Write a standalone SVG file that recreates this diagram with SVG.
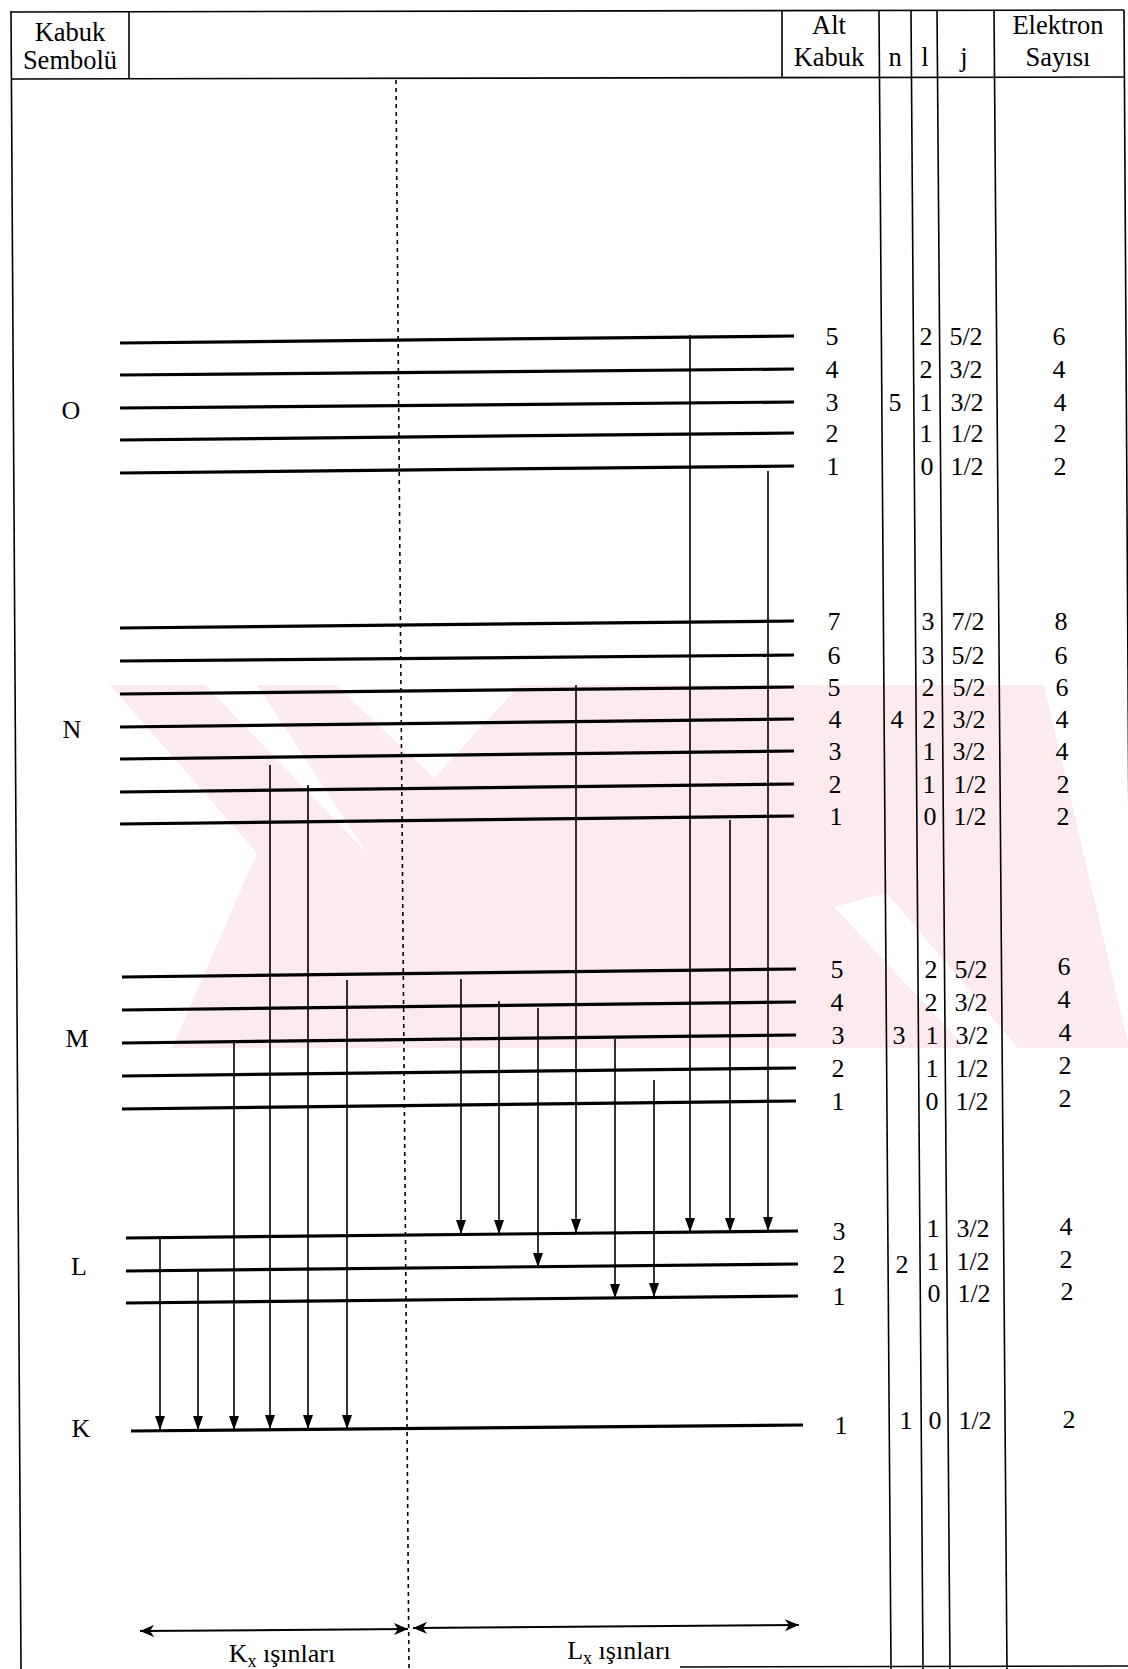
<svg xmlns="http://www.w3.org/2000/svg" width="1128" height="1669" viewBox="0 0 1128 1669">
<defs>
<style>
.t{font-family:"Liberation Serif","Times New Roman",serif;font-size:26px;fill:#000;text-anchor:middle}
.h{font-size:26.5px}
.lv{stroke:#000;stroke-width:3.2;fill:none}
.col{stroke:#000;stroke-width:1.6;fill:none}
.ar{stroke:#000;stroke-width:1.6;fill:none;marker-end:url(#ah)}
.wm{fill:#fdeaee}
.wh{fill:#fff}
</style>
<marker id="ah" viewBox="0 0 14 10" refX="14" refY="5" markerWidth="14" markerHeight="10" markerUnits="userSpaceOnUse" orient="auto">
<path d="M0,0 L14,5 L0,10 Z" fill="#000"/>
</marker>
<marker id="ab" viewBox="0 0 14 12" refX="14" refY="6" markerWidth="14" markerHeight="12" markerUnits="userSpaceOnUse" orient="auto-start-reverse">
<path d="M0,0 L14,6 L0,12 L4,6 Z" fill="#000"/>
</marker>
</defs>
<rect width="1128" height="1669" fill="#fff"/>
<g id="watermark">
<rect class="wm" x="110" y="685" width="1018" height="363"/>
<polygon class="wh" points="336,685 520,685 434,778"/>
<polygon class="wh" points="205,685 257,685 366,852"/>
<polygon class="wh" points="110,685 257,853 172,1048 110,1048"/>
<polygon class="wh" points="1044,685 1128,685 1128,1043"/>
<polygon class="wh" points="834,907 887,893 1018,1048 966,1048"/>
</g>
<g id="frame">
<line class="col" x1="11" y1="12" x2="1124" y2="10"/>
<line class="col" x1="11" y1="79" x2="1124" y2="77"/>
<line class="col" x1="11" y1="11" x2="21" y2="1669"/>
<line class="col" x1="1124" y1="10" x2="1134" y2="1669"/>
<line class="col" x1="129" y1="11" x2="129" y2="79"/>
<line class="col" x1="782" y1="11" x2="782" y2="78"/>
<line class="col" x1="879" y1="10" x2="891" y2="1669"/>
<line class="col" x1="911" y1="10" x2="923" y2="1669"/>
<line class="col" x1="937" y1="10" x2="950" y2="1669"/>
<line class="col" x1="994" y1="10" x2="1007" y2="1669"/>
<line class="col" x1="680" y1="1667" x2="1128" y2="1666"/>
<line stroke="#000" stroke-width="1.6" stroke-dasharray="4,4" x1="396" y1="80" x2="409" y2="1669"/>
</g>
<g id="header">
<text class="t h" x="70" y="41">Kabuk</text>
<text class="t h" x="70" y="69">Sembolü</text>
<text class="t h" x="829" y="34">Alt</text>
<text class="t h" x="829" y="66">Kabuk</text>
<text class="t h" x="895" y="66">n</text>
<text class="t h" x="925" y="66">l</text>
<text class="t h" x="964" y="66">j</text>
<text class="t h" x="1058" y="34">Elektron</text>
<text class="t h" x="1058" y="66">Sayısı</text>
</g>
<g id="shell-O">
<text class="t" x="71" y="419">O</text>
<line class="lv" x1="120" y1="343" x2="794" y2="336"/>
<line class="lv" x1="120" y1="375" x2="794" y2="369"/>
<line class="lv" x1="120" y1="408" x2="794" y2="402"/>
<line class="lv" x1="120" y1="440" x2="794" y2="433"/>
<line class="lv" x1="120" y1="473" x2="794" y2="466"/>
<text class="t" x="832" y="345">5</text>
<text class="t" x="832" y="378">4</text>
<text class="t" x="832" y="411">3</text>
<text class="t" x="832" y="442">2</text>
<text class="t" x="833" y="475">1</text>
<text class="t" x="895" y="411">5</text>
<text class="t" x="926" y="345">2</text>
<text class="t" x="926" y="378">2</text>
<text class="t" x="926" y="411">1</text>
<text class="t" x="926" y="442">1</text>
<text class="t" x="927" y="475">0</text>
<text class="t" x="966" y="345">5/2</text>
<text class="t" x="966" y="378">3/2</text>
<text class="t" x="967" y="411">3/2</text>
<text class="t" x="967" y="442">1/2</text>
<text class="t" x="967" y="475">1/2</text>
<text class="t" x="1059" y="345">6</text>
<text class="t" x="1059" y="378">4</text>
<text class="t" x="1060" y="411">4</text>
<text class="t" x="1060" y="442">2</text>
<text class="t" x="1060" y="475">2</text>
</g>
<g id="shell-N">
<text class="t" x="72" y="738">N</text>
<line class="lv" x1="120" y1="628" x2="794" y2="621"/>
<line class="lv" x1="120" y1="661" x2="794" y2="655"/>
<line class="lv" x1="120" y1="694" x2="794" y2="687"/>
<line class="lv" x1="120" y1="727" x2="794" y2="719"/>
<line class="lv" x1="120" y1="759" x2="794" y2="751"/>
<line class="lv" x1="120" y1="792" x2="794" y2="784"/>
<line class="lv" x1="120" y1="824" x2="794" y2="816"/>
<text class="t" x="834" y="630">7</text>
<text class="t" x="834" y="664">6</text>
<text class="t" x="834" y="696">5</text>
<text class="t" x="835" y="728">4</text>
<text class="t" x="835" y="760">3</text>
<text class="t" x="835" y="793">2</text>
<text class="t" x="836" y="825">1</text>
<text class="t" x="897" y="728">4</text>
<text class="t" x="928" y="630">3</text>
<text class="t" x="928" y="664">3</text>
<text class="t" x="928" y="696">2</text>
<text class="t" x="929" y="728">2</text>
<text class="t" x="929" y="760">1</text>
<text class="t" x="929" y="793">1</text>
<text class="t" x="930" y="825">0</text>
<text class="t" x="968" y="630">7/2</text>
<text class="t" x="968" y="664">5/2</text>
<text class="t" x="969" y="696">5/2</text>
<text class="t" x="969" y="728">3/2</text>
<text class="t" x="969" y="760">3/2</text>
<text class="t" x="970" y="793">1/2</text>
<text class="t" x="970" y="825">1/2</text>
<text class="t" x="1061" y="630">8</text>
<text class="t" x="1061" y="664">6</text>
<text class="t" x="1062" y="696">6</text>
<text class="t" x="1062" y="728">4</text>
<text class="t" x="1062" y="760">4</text>
<text class="t" x="1063" y="793">2</text>
<text class="t" x="1063" y="825">2</text>
</g>
<g id="shell-M">
<text class="t" x="77" y="1047">M</text>
<line class="lv" x1="122" y1="977" x2="796" y2="969"/>
<line class="lv" x1="122" y1="1010" x2="796" y2="1002"/>
<line class="lv" x1="122" y1="1043" x2="796" y2="1035"/>
<line class="lv" x1="122" y1="1076" x2="796" y2="1068"/>
<line class="lv" x1="122" y1="1109" x2="796" y2="1101"/>
<text class="t" x="837" y="978">5</text>
<text class="t" x="837" y="1011">4</text>
<text class="t" x="838" y="1044">3</text>
<text class="t" x="838" y="1077">2</text>
<text class="t" x="838" y="1110">1</text>
<text class="t" x="899" y="1044">3</text>
<text class="t" x="931" y="978">2</text>
<text class="t" x="931" y="1011">2</text>
<text class="t" x="932" y="1044">1</text>
<text class="t" x="932" y="1077">1</text>
<text class="t" x="932" y="1110">0</text>
<text class="t" x="971" y="978">5/2</text>
<text class="t" x="971" y="1011">3/2</text>
<text class="t" x="972" y="1044">3/2</text>
<text class="t" x="972" y="1077">1/2</text>
<text class="t" x="972" y="1110">1/2</text>
<text class="t" x="1064" y="975">6</text>
<text class="t" x="1064" y="1008">4</text>
<text class="t" x="1065" y="1041">4</text>
<text class="t" x="1065" y="1074">2</text>
<text class="t" x="1065" y="1107">2</text>
</g>
<g id="shell-L">
<text class="t" x="79" y="1275">L</text>
<line class="lv" x1="126" y1="1238" x2="798" y2="1231"/>
<line class="lv" x1="126" y1="1271" x2="798" y2="1264"/>
<line class="lv" x1="126" y1="1303" x2="798" y2="1296"/>
<text class="t" x="839" y="1240">3</text>
<text class="t" x="839" y="1273">2</text>
<text class="t" x="839" y="1305">1</text>
<text class="t" x="902" y="1273">2</text>
<text class="t" x="933" y="1237">1</text>
<text class="t" x="933" y="1270">1</text>
<text class="t" x="934" y="1302">0</text>
<text class="t" x="973" y="1237">3/2</text>
<text class="t" x="973" y="1270">1/2</text>
<text class="t" x="974" y="1302">1/2</text>
<text class="t" x="1066" y="1235">4</text>
<text class="t" x="1066" y="1268">2</text>
<text class="t" x="1067" y="1300">2</text>
</g>
<g id="shell-K">
<text class="t" x="81" y="1437">K</text>
<line class="lv" x1="131" y1="1431" x2="803" y2="1425"/>
<text class="t" x="841" y="1434">1</text>
<text class="t" x="906" y="1429">1</text>
<text class="t" x="935" y="1429">0</text>
<text class="t" x="975" y="1429">1/2</text>
<text class="t" x="1069" y="1428">2</text>
</g>
<g id="connectors">
<line class="ar" x1="160" y1="1237" x2="160" y2="1430"/>
<line class="ar" x1="198" y1="1272" x2="198" y2="1430"/>
<line class="ar" x1="234" y1="1041" x2="234" y2="1430"/>
<line class="ar" x1="270" y1="765" x2="270" y2="1429"/>
<line class="ar" x1="308" y1="785" x2="308" y2="1429"/>
<line class="ar" x1="347" y1="980" x2="347" y2="1429"/>
<line class="ar" x1="461" y1="979" x2="461" y2="1234"/>
<line class="ar" x1="499" y1="1001" x2="499" y2="1234"/>
<line class="ar" x1="538" y1="1008" x2="538" y2="1267"/>
<line class="ar" x1="576" y1="685" x2="576" y2="1233"/>
<line class="ar" x1="615" y1="1039" x2="615" y2="1298"/>
<line class="ar" x1="654" y1="1080" x2="654" y2="1297"/>
<line class="ar" x1="690" y1="335" x2="690" y2="1232"/>
<line class="ar" x1="730" y1="820" x2="730" y2="1232"/>
<line class="ar" x1="768" y1="471" x2="768" y2="1231"/>
<line stroke="#000" stroke-width="2" marker-start="url(#ab)" marker-end="url(#ab)" x1="140" y1="1631" x2="408" y2="1629"/>
<line stroke="#000" stroke-width="2" marker-start="url(#ab)" marker-end="url(#ab)" x1="413" y1="1628" x2="799" y2="1625"/>
</g>
<g id="ray-labels">
<text class="t" x="282" y="1662" font-size="28">K<tspan font-size="18" dy="5">x</tspan><tspan dy="-5"> ışınları</tspan></text>
<text class="t" x="619" y="1659" font-size="28">L<tspan font-size="18" dy="5">x</tspan><tspan dy="-5"> ışınları</tspan></text>
</g>
</svg>
